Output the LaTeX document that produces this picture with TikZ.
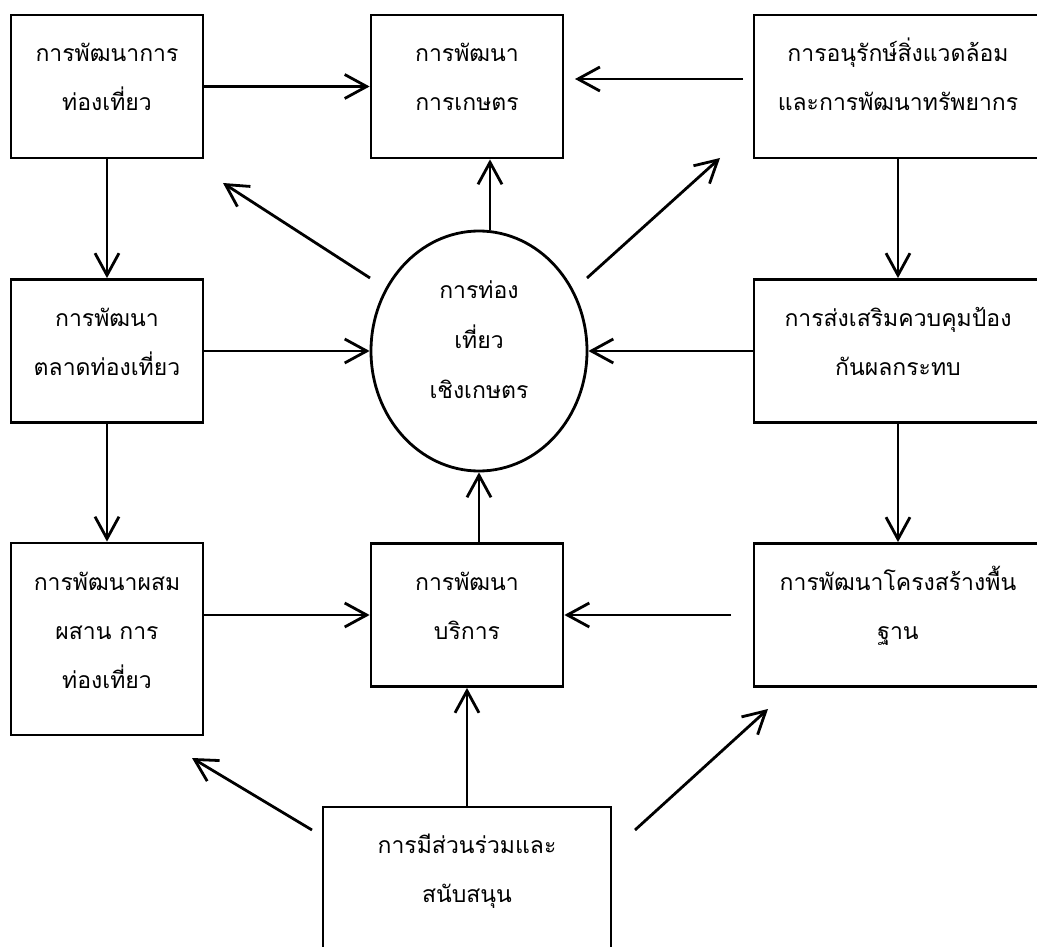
\documentclass[tikz,border=0pt]{standalone}
\usepackage{fontspec}
\newfontfamily\thaifont[Script=Thai]{Loma}
\usetikzlibrary{arrows.meta,shapes.geometric}

\begin{document}
\begin{tikzpicture}[x=1pt,y=-1pt,line width=2.8pt,
    box/.style={draw,rectangle,inner sep=0pt,align=center,
      font=\thaifont\fontsize{23}{49}\selectfont,
      minimum width=192pt,minimum height=143pt,
      text height=96pt,text depth=47pt},
    widebox/.style={box,minimum width=288pt},
    oval/.style={draw,ellipse,inner sep=0pt,align=center,
      font=\thaifont\fontsize{23}{50}\selectfont,
      minimum width=216pt,minimum height=240pt,
      text height=125pt,text depth=31pt},
    arr/.style={-{Straight Barb[length=22pt,width=24pt]}}]
        \useasboundingbox (0,0) rectangle (1037,947);
        \clip (0,0) rectangle (1037,947);
        % the boxes
        \node[box]     (tl)  at (107,86.5) {การพัฒนาการ\\ท่องเที่ยว};
        \node[box]     (tm)  at (467,86.5) {การพัฒนา\\การเกษตร};
        \node[widebox] (tr)  at (898,86.5) {การอนุรักษ์สิ่งแวดล้อม\\และการพัฒนาทรัพยากร};
        \node[box]     (ml)  at (107,351)  {การพัฒนา\\ตลาดท่องเที่ยว};
        \node[oval]    (agt) at (479,351)  {การท่อง\\เที่ยว\\เชิงเกษตร};
        \node[widebox] (mr)  at (898,351)  {การส่งเสริมควบคุมป้อง\\กันผลกระทบ};
        \node[box,minimum height=192pt,text height=145pt,text depth=47pt]
                       (bl)  at (107,639)  {การพัฒนาผสม\\ผสาน การ\\ท่องเที่ยว};
        \node[box]     (bm)  at (467,615)  {การพัฒนา\\บริการ};
        \node[widebox] (br)  at (898,615)  {การพัฒนาโครงสร้างพื้น\\ฐาน};
        \node[widebox,minimum height=150pt,text height=95pt,text depth=55pt]
                       (sup) at (467,882)  {การมีส่วนร่วมและ\\สนับสนุน};
        % free ends of the arrows
        \coordinate (trout) at (743,79);
        \coordinate (tmin)  at (575,79);
        \coordinate (agtl)  at (370,278);
        \coordinate (tltip) at (223,183);
        \coordinate (agtr)  at (587,278);
        \coordinate (trtip) at (720,158);
        \coordinate (brout) at (731,615);
        \coordinate (supl)  at (312,830);
        \coordinate (bltip) at (192,758);
        \coordinate (supr)  at (635,830);
        \coordinate (brtip) at (768,709);
        % drawing the arrows
        \draw[arr] (tl)    -- (tm);
        \draw[arr] (trout) -- (tmin);
        \draw[arr] (tl)    -- (ml);
        \draw[arr] (ml)    -- (bl);
        \draw[arr] (tr)    -- (mr);
        \draw[arr] (mr)    -- (br);
        \draw[arr] (ml)    -- (agt);
        \draw[arr] (mr)    -- (agt);
        \draw[arr] ([xshift=11pt]agt.north) -- ([xshift=11pt]agt.north |- tm.south);
        \draw[arr] (agtl)  -- (tltip);
        \draw[arr] (agtr)  -- (trtip);
        \draw[arr] (bl.east |- bm.west) -- (bm.west);
        \draw[arr] (brout) -- (bm.east);
        \draw[arr] (agt.south |- bm.north) -- (agt.south);
        \draw[arr] (sup)   -- (bm);
        \draw[arr] (supl)  -- (bltip);
        \draw[arr] (supr)  -- (brtip);
\end{tikzpicture}
\end{document}
